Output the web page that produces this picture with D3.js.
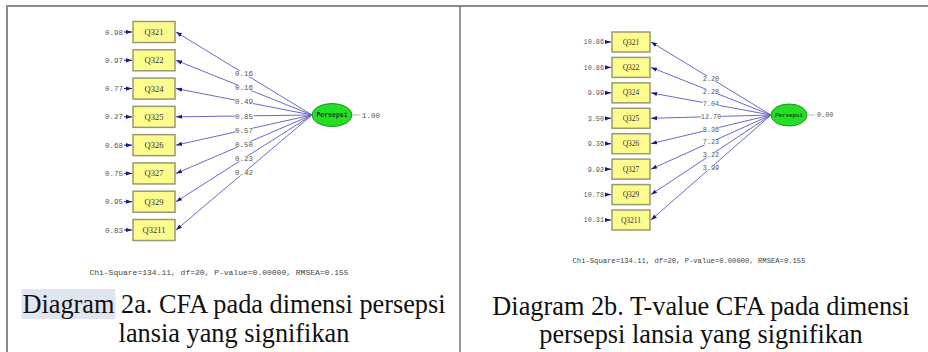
<!DOCTYPE html>
<html><head><meta charset="utf-8">
<script src="https://cdn.jsdelivr.net/npm/d3@7"></script>
<style>body{margin:0;background:#fff}svg{display:block}</style>
</head><body>
<svg id="c" width="928" height="352"></svg>
<script>
const items = ["Q321","Q322","Q324","Q325","Q326","Q327","Q329","Q3211"];
const loadings = ["0.16","0.16","0.49","0.85","0.57","0.50","0.23","0.42"];
const errorVars = ["0.98","0.97","0.77","0.27","0.68","0.75","0.95","0.83"];
const tValues = ["2.20","2.28","7.04","12.70","8.36","7.23","3.22","3.99"];
const tErrors = ["10.86","10.86","9.99","3.50","9.36","9.92","10.78","10.31"];
const latentName = "Persepsi";
const latentVarA = "1.00", latentVarB = "0.00";
const fitText = "Chi-Square=134.11, df=20, P-value=0.00000, RMSEA=0.155";
const captionA = ["Diagram 2a. CFA pada dimensi persepsi","lansia yang signifikan"];
const captionB = ["Diagram 2b. T-value CFA pada dimensi","persepsi lansia yang signifikan"];

const svg = d3.select("#c");
const defs = svg.append("defs");
defs.append("marker").attr("id","ah").attr("viewBox","0 0 10 10").attr("refX",10).attr("refY",5)
  .attr("markerWidth",6).attr("markerHeight",6).attr("markerUnits","userSpaceOnUse").attr("orient","auto")
  .append("path").attr("d","M0,1.5L10,5L0,8.5Z").attr("fill","#1a1a8c");

// table borders
svg.append("line").attr("x1",6).attr("x2",928).attr("y1",6).attr("y2",6).attr("stroke","#8a8a8a").attr("stroke-width",2);
svg.append("line").attr("x1",7).attr("x2",7).attr("y1",6).attr("y2",352).attr("stroke","#8a8a8a").attr("stroke-width",2);
svg.append("line").attr("x1",460).attr("x2",460).attr("y1",6).attr("y2",352).attr("stroke","#777").attr("stroke-width",1.5);

function panel(o){
  const g = svg.append("g");
  const y = d3.scalePoint().domain(items).range(o.yr);
  const mono = "'Liberation Mono','DejaVu Sans Mono',monospace";
  const serif = "'Liberation Serif','Times New Roman',serif";
  items.forEach((it,i)=>{
    const x1=o.ex-o.rx, y1=o.ey, x2=o.bx+o.bw+1, y2=y(it);
    g.append("line").attr("x1",x1).attr("y1",y1).attr("x2",x2).attr("y2",y2)
      .attr("stroke","#6a6ac8").attr("stroke-width",1).attr("marker-end","url(#ah)");
  });
  items.forEach((it,i)=>{
    const x1=o.ex-o.rx, y1=o.ey, x2=o.bx+o.bw+1, y2=y(it);
    const mx=(x1+x2)/2, my=(y1+y2)/2;
    const t=g.append("text").attr("x",mx).attr("y",my).attr("dy","0.35em").attr("text-anchor","middle")
      .attr("font-family",mono).attr("font-size",o.fs).attr("fill","#555").text(o.lab[i]);
    const bb=t.node().getBBox();
    g.insert("rect","text").attr("x",bb.x).attr("y",my-o.fs*0.35).attr("width",bb.width).attr("height",o.fs*0.75).attr("fill","#fff");
  });
  items.forEach((it,i)=>{
    g.append("rect").attr("x",o.bx).attr("y",y(it)-o.bh/2).attr("width",o.bw).attr("height",o.bh)
      .attr("fill","#fcfc8e").attr("stroke","#9a9a70").attr("stroke-width",1.5);
    g.append("text").attr("x",o.bx+o.bw/2).attr("y",y(it)).attr("dy","0.35em").attr("text-anchor","middle")
      .attr("font-family",serif).attr("font-size",o.qfs).attr("fill","#333").text(it);
    g.append("line").attr("x1",o.bx-o.al-1).attr("x2",o.bx-1).attr("y1",y(it)).attr("y2",y(it))
      .attr("stroke","#1a1a8c").attr("stroke-width",1).attr("marker-end","url(#ah)");
    g.append("text").attr("x",o.bx-o.al-2).attr("y",y(it)).attr("dy","0.35em").attr("text-anchor","end")
      .attr("font-family",mono).attr("font-size",o.fs).attr("fill","#555").text(o.err[i]);
  });
  g.append("ellipse").attr("cx",o.ex).attr("cy",o.ey).attr("rx",o.rx).attr("ry",o.ry)
    .attr("fill","#22e022").attr("stroke","#2a8a2a").attr("stroke-width",1);
  g.append("text").attr("x",o.ex).attr("y",o.ey).attr("dy","0.35em").attr("text-anchor","middle")
    .attr("font-family",mono).attr("font-size",o.fs-1).attr("font-weight","bold").attr("fill","#1a3a1a").text(latentName);
  g.append("line").attr("x1",o.ex+o.rx).attr("x2",o.ex+o.rx+8).attr("y1",o.ey).attr("y2",o.ey).attr("stroke","#bbb");
  g.append("text").attr("x",o.ex+o.rx+10).attr("y",o.ey).attr("dy","0.35em")
    .attr("font-family",mono).attr("font-size",o.fs).attr("fill","#555").text(o.lv);
  g.append("text").attr("x",o.fx).attr("y",o.fy).attr("text-anchor","middle").attr("font-family",mono)
    .attr("font-size",o.ffs).attr("fill","#444").text(fitText);
  const c1=g.append("text").attr("x",o.cx).attr("y",o.cy1).attr("text-anchor","middle")
    .attr("font-family",serif).attr("font-size",o.cfs).attr("fill","#111");
  if(o.hl){
    const words=o.cap[0].split(" ");
    c1.append("tspan").text(words[0]);
    c1.append("tspan").text(" "+words.slice(1).join(" "));
    const len=c1.select("tspan").node().getComputedTextLength();
    const bb=c1.node().getBBox();
    g.insert("rect",()=>c1.node()).attr("x",bb.x-1).attr("y",o.cy1-24).attr("width",len+2).attr("height",30).attr("fill","#dfe6ef");
  } else c1.text(o.cap[0]);
  g.append("text").attr("x",o.cx).attr("y",o.cy2).attr("text-anchor","middle")
    .attr("font-family",serif).attr("font-size",o.cfs).attr("fill","#111").text(o.cap[1]);
}

panel({yr:[32,230],bx:133,bw:42,bh:21,al:8,ex:332,ey:115,rx:20,ry:11.5,fs:7.5,qfs:8.5,
  lab:loadings,err:errorVars,lv:latentVarA,fx:219,fy:275,ffs:8,cx:234,cy1:313,cy2:342,cfs:26.3,cap:captionA,hl:true});
panel({yr:[42,220],bx:612,bw:38,bh:20,al:6,ex:789,ey:115,rx:18,ry:11,fs:6.8,qfs:7.5,
  lab:tValues,err:tErrors,lv:latentVarB,fx:689,fy:263,ffs:7.2,cx:701,cy1:315,cy2:343,cfs:26.3,cap:captionB,hl:false});
</script>
</body></html>
